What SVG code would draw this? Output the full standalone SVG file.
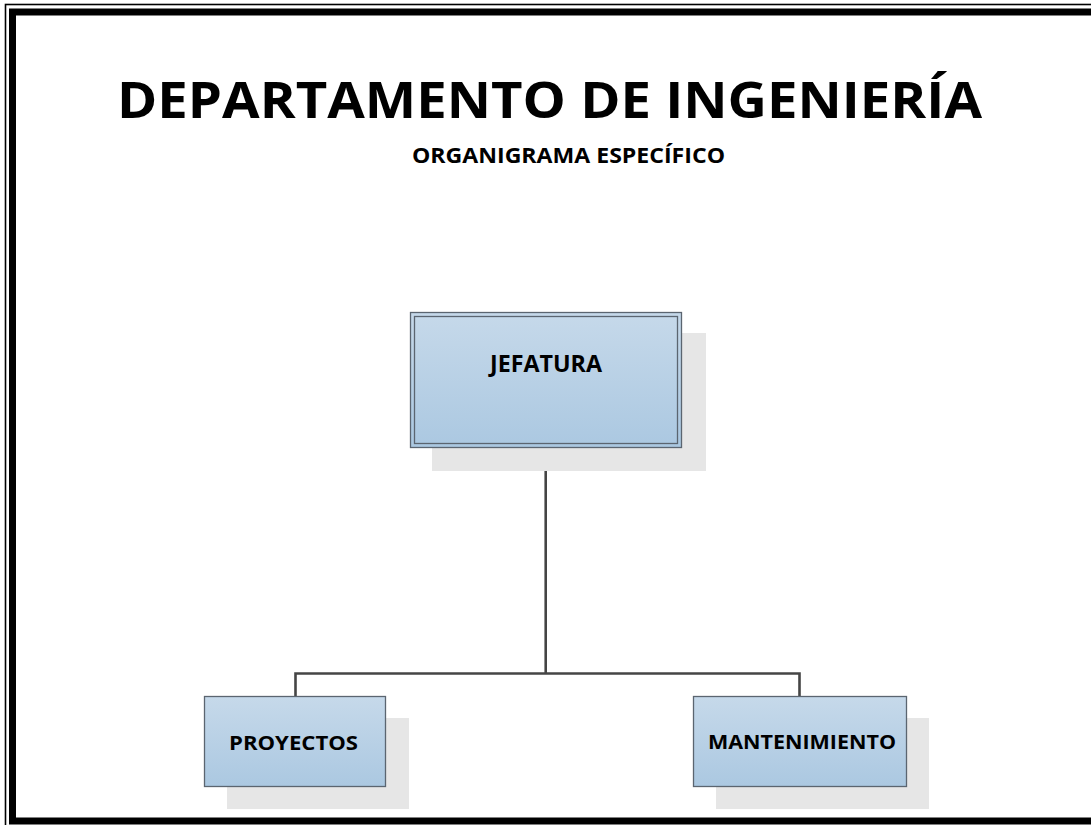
<svg xmlns="http://www.w3.org/2000/svg" width="1091" height="825" viewBox="0 0 1091 825">
<defs>
<linearGradient id="boxg" x1="0" y1="0" x2="0" y2="1">
<stop offset="0" stop-color="#c6d9ea"/>
<stop offset="1" stop-color="#abc8e1"/>
</linearGradient>
<style>
.t{font-family:"Open Sans","Noto Sans","Liberation Sans",sans-serif;font-weight:bold;fill:#000;text-anchor:middle}
.shadow{fill:#e6e6e6}
.box{fill:url(#boxg);stroke:#5b6570;stroke-width:1.3}
.conn{fill:none;stroke:#454545;stroke-width:2.6}
</style>
</defs>
<rect width="1091" height="825" fill="#fff"/>
<g id="border">
<rect x="5.5" y="4.5" width="1100" height="840" fill="none" stroke="#000" stroke-width="1.6"/>
<rect x="12.5" y="12" width="1100" height="809" fill="none" stroke="#000" stroke-width="7"/>
</g>
<g id="title">
<text class="t" x="549.5" y="118" font-size="50" textLength="865" lengthAdjust="spacingAndGlyphs">DEPARTAMENTO DE INGENIERÍA</text>
<text class="t" x="568.5" y="163" font-size="22" textLength="313" lengthAdjust="spacingAndGlyphs">ORGANIGRAMA ESPECÍFICO</text>
</g>
<g id="connectors">
<path class="conn" d="M545.7 448 V673.5"/>
<path class="conn" d="M295.5 696 V673.5 H799.5 V696"/>
</g>
<g id="node-jefatura">
<rect class="shadow" x="432" y="333" width="274" height="138"/>
<rect class="box" x="410.5" y="312.5" width="271" height="135"/>
<rect x="414.5" y="316.5" width="263" height="127" fill="none" stroke="#5b6570" stroke-width="1.3"/>
<text class="t" x="546" y="372" font-size="23" textLength="112" lengthAdjust="spacingAndGlyphs">JEFATURA</text>
</g>
<g id="node-proyectos">
<rect class="shadow" x="227" y="718" width="182" height="91"/>
<rect class="box" x="204.5" y="696.5" width="181" height="90"/>
<text class="t" x="293.5" y="750" font-size="20" textLength="129" lengthAdjust="spacingAndGlyphs">PROYECTOS</text>
</g>
<g id="node-mantenimiento">
<rect class="shadow" x="716" y="718" width="213" height="91"/>
<rect class="box" x="693.5" y="696.5" width="213" height="90"/>
<text class="t" x="802" y="749" font-size="20" textLength="188" lengthAdjust="spacingAndGlyphs">MANTENIMIENTO</text>
</g>
</svg>
